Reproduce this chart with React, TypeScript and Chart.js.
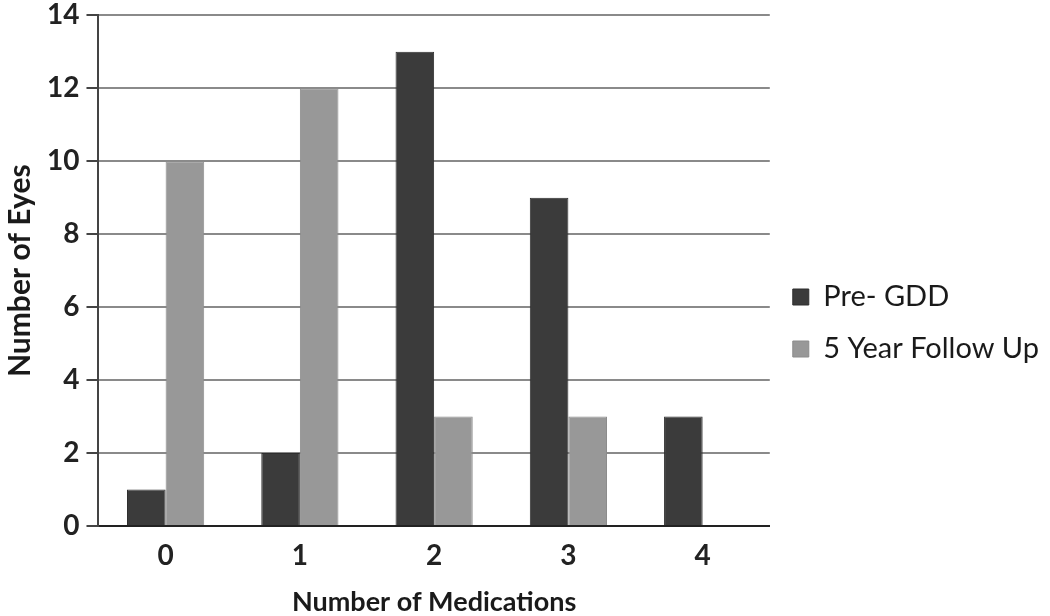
import React, { useEffect, useRef } from "react";
import { Chart, registerables } from "chart.js";

Chart.register(...registerables);

const categories = ["0", "1", "2", "3", "4"];
const preGDD = [1, 2, 13, 9, 3];
const followUp = [10, 12, 3, 3, 0];
const seriesLabels = ["Pre- GDD", "5 Year Follow Up"];
const xTitle = "Number of Medications";
const yTitle = "Number of Eyes";

const FONT = "Lato, 'Open Sans', sans-serif";

export default function App() {
  const ref = useRef<HTMLCanvasElement | null>(null);
  useEffect(() => {
    document.body.style.margin = "0";
    if (!ref.current) return;
    const chart = new Chart(ref.current, {
      type: "bar",
      data: {
        labels: categories,
        datasets: [
          {
            label: seriesLabels[0],
            data: preGDD,
            backgroundColor: "#3b3b3b",
            borderColor: "#2e2e2e",
            borderWidth: 1,
          },
          {
            label: seriesLabels[1],
            data: followUp,
            backgroundColor: "#989898",
            borderColor: "#8c8c8c",
            borderWidth: 1,
          },
        ],
      },
      options: {
        animation: false,
        responsive: false,
        maintainAspectRatio: false,
        datasets: { bar: { categoryPercentage: 0.575, barPercentage: 1 } },
        layout: { padding: { left: 2, right: 1, top: 0, bottom: 0 } },
        plugins: {
          tooltip: { enabled: false },
          legend: {
            position: "right",
            maxWidth: 320,
            title: { display: true, text: " ", font: { size: 10, lineHeight: 1 }, padding: { top: 20, bottom: 0 } },
            labels: {
              boxWidth: 16,
              boxHeight: 16,
              padding: 23,
              color: "#1a1a1a",
              font: { family: FONT, size: 29 },
            },
          },
        },
        scales: {
          x: {
            grid: { display: false },
            border: { display: true, color: "#222", width: 2 },
            ticks: { color: "#222", font: { family: FONT, size: 28, weight: "bold", lineHeight: 1 }, padding: 8 },
            title: {
              display: true,
              text: xTitle,
              color: "#1a1a1a",
              font: { family: FONT, size: 27, weight: "bold", lineHeight: 1 },
              padding: { top: 11, bottom: 0 },
            },
          },
          y: {
            min: 0,
            max: 14,
            ticks: { stepSize: 2, color: "#222", font: { family: FONT, size: 28, weight: "bold", lineHeight: 0.6 }, padding: 7 },
            grid: { color: "#8a8a8a", lineWidth: 2, drawTicks: true, tickLength: 12, tickColor: "#444" },
            border: { display: true, color: "#444", width: 2 },
            title: {
              display: true,
              text: yTitle,
              color: "#1a1a1a",
              font: { family: FONT, size: 30, weight: "bold" },
              padding: { top: 0, bottom: 2 },
            },
          },
        },
      },
    });
    return () => chart.destroy();
  }, []);
  return (
    <div style={{ width: 1050, height: 616, background: "#fff" }}>
      <canvas ref={ref} width={1050} height={616} />
    </div>
  );
}
